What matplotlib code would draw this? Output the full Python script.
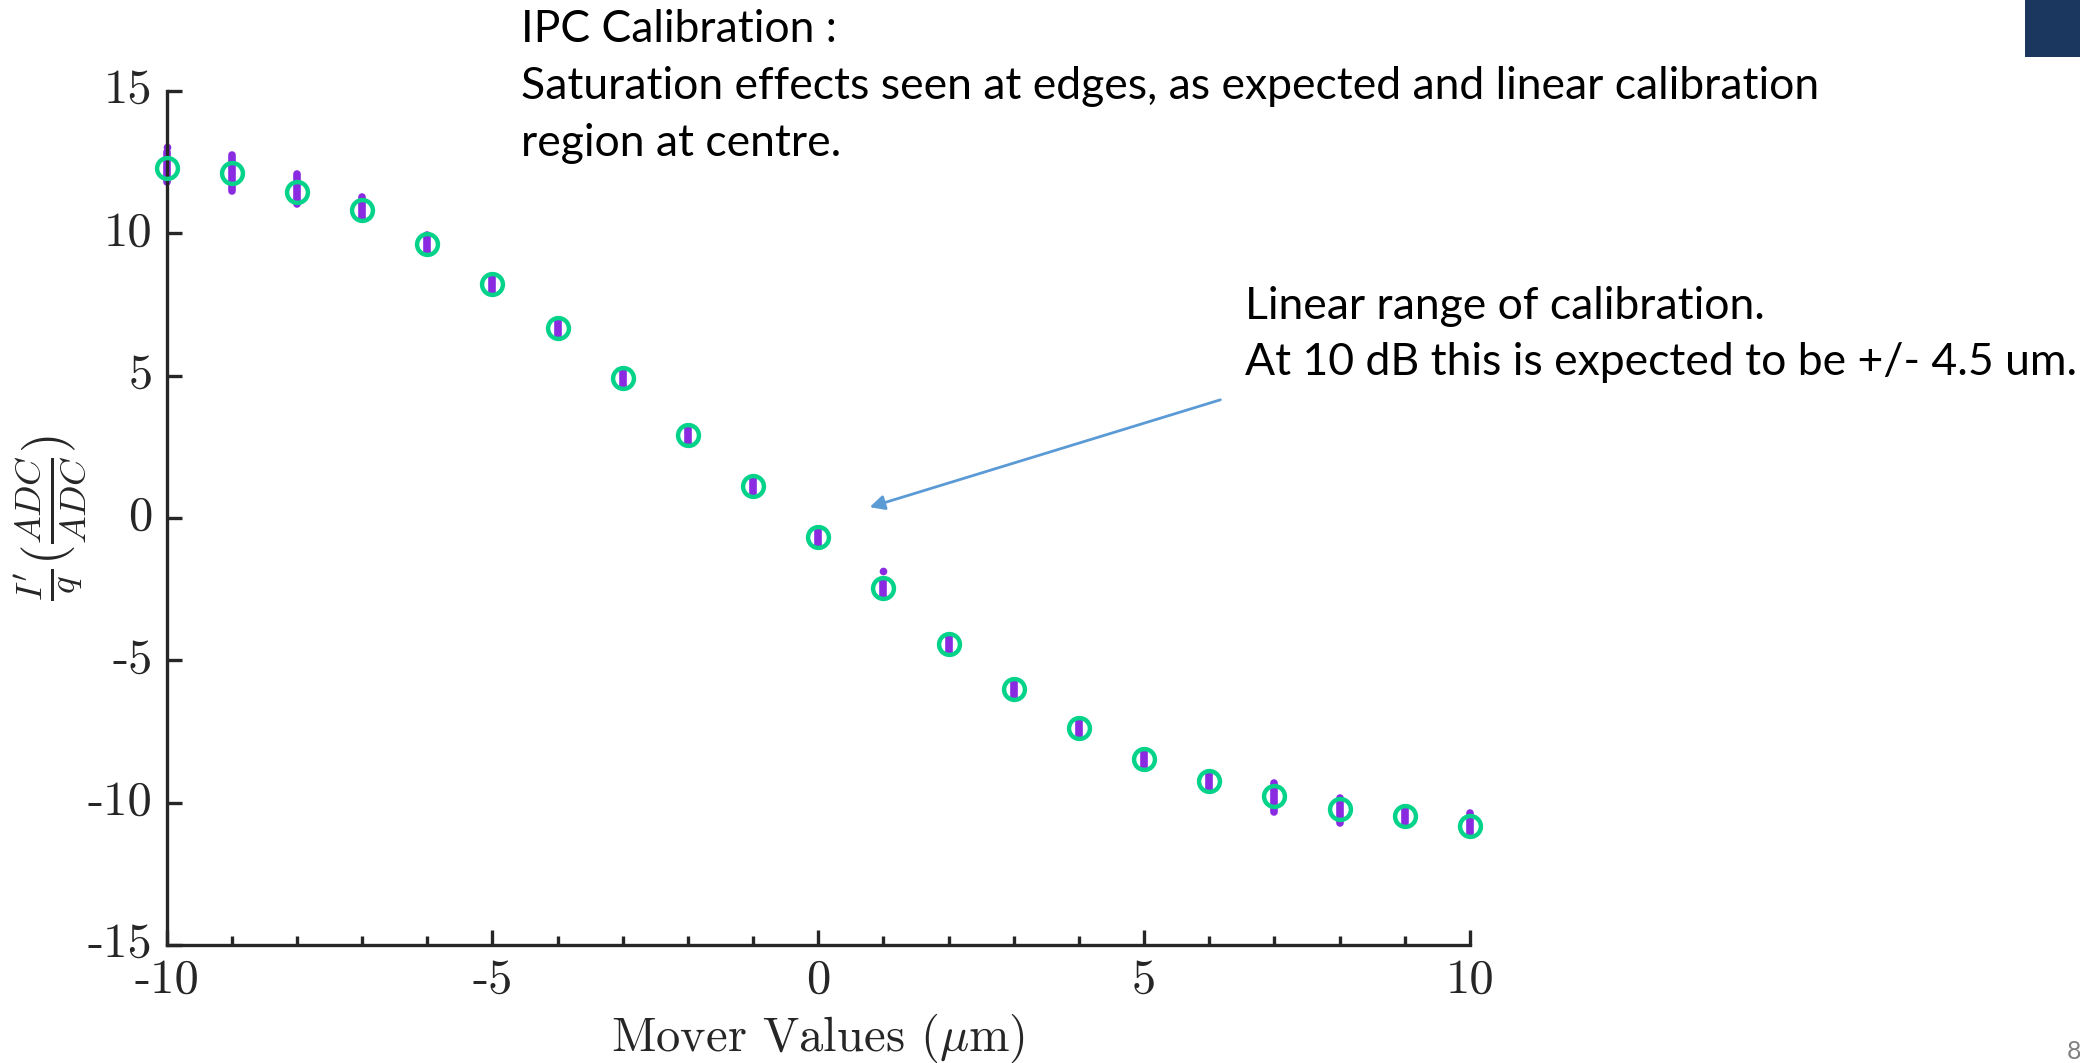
import numpy as np
import matplotlib
matplotlib.use('Agg')
from matplotlib import pyplot as plt
from matplotlib import transforms

# mover positions (um) and mean response I'/q at each position
mover = [-10, -9, -8, -7, -6, -5, -4, -3, -2, -1, 0, 1, 2, 3, 4, 5, 6, 7, 8, 9, 10]
mean_resp = [12.28, 12.13, 11.46, 10.82, 9.62, 8.21, 6.69, 4.92, 2.92, 1.14, -0.68,
             -2.47, -4.43, -6.00, -7.37, -8.48, -9.24, -9.76, -10.23, -10.46, -10.81]

# spread of the individual samples at each position (top / bottom)
sample_hi = [12.87, 12.75, 12.07, 11.26, 9.94, 8.48, 6.96, 5.19, 3.19, 1.41, -0.40,
             -2.18, -4.13, -5.73, -7.10, -8.21, -8.95, -9.32, -9.85, -10.20, -10.37]
sample_lo = [11.81, 11.50, 11.02, 10.53, 9.35, 7.95, 6.42, 4.65, 2.65, 0.87, -0.95,
             -2.76, -4.70, -6.28, -7.62, -8.76, -9.51, -10.32, -10.72, -10.72, -11.07]

# stray samples lying off the main spread
stray_x = [-10, 1]
stray_y = [13.04, -1.86]

xticks = [-10, -5, 0, 5, 10]
yticks = [-15, -10, -5, 0, 5, 10, 15]

W, H = 2080, 1063
purple = '#8a2be2'
green = '#05d38a'
ink = '#262626'

plt.rcParams['mathtext.fontset'] = 'cm'
plt.rcParams['axes.unicode_minus'] = False

fig = plt.figure(figsize=(W / 100, H / 100), dpi=100)


def pos(x, y):
    # slide pixel -> figure fraction
    return x / W, 1 - y / H


l, t = pos(166.5, 91)
r, b = pos(1470, 945)
ax = fig.add_axes([l, b, r - l, t - b])

ax.vlines(mover, sample_lo, sample_hi, color=purple, lw=5.5, capstyle='round',
          zorder=2, clip_on=False)
ax.plot(stray_x, stray_y, 'o', color=purple, ms=5.5, mew=0, zorder=2, clip_on=False)
ax.plot(mover, mean_resp, 'o', mfc='none', mec=green, ms=15, mew=3.2, zorder=3,
        clip_on=False)

ax.set_xlim(-10, 10)
ax.set_ylim(-15, 15)
for s in ['top', 'right']:
    ax.spines[s].set_visible(False)
for s in ['left', 'bottom']:
    ax.spines[s].set_linewidth(2.4)
    ax.spines[s].set_color(ink)

ax.set_xticks(xticks)
ax.set_xticks(mover, minor=True)
ax.set_yticks(yticks)
ax.set_xticklabels([str(v) for v in xticks], family='cmr10', fontsize=35, color=ink)
ax.set_yticklabels([str(v) for v in yticks], family='cmr10', fontsize=35, color=ink)
ax.tick_params(axis='both', which='major', direction='in', length=10.5, width=2.4, color=ink)
ax.tick_params(axis='x', which='minor', direction='in', length=6.5, width=2.4, color=ink)
ax.tick_params(axis='x', which='major', pad=10)
ax.tick_params(axis='y', which='major', pad=10)

# nudge the y tick labels up a little so they sit level with their ticks
nudge = transforms.ScaledTranslation(0, 5 / 100, fig.dpi_scale_trans)
for lab in ax.get_yticklabels():
    lab.set_transform(lab.get_transform() + nudge)

ax.set_xlabel(r'Mover Values ($\mu$m)', family='cmr10', fontsize=35, color=ink, labelpad=6)
ax.set_ylabel(r'$\frac{I^{\prime}}{q}(\frac{ADC}{ADC})$', fontsize=38, color=ink)
ax.yaxis.set_label_coords(-0.06, 0.5)

# slide annotations
note_font = dict(family=['Lato', 'DejaVu Sans'], fontsize=32, color='black', va='baseline')
fig.text(*pos(521, 42), 'IPC Calibration :', **note_font)
fig.text(*pos(521, 99), 'Saturation effects seen at edges, as expected and linear calibration', **note_font)
fig.text(*pos(521, 156), 'region at centre.', **note_font)
fig.text(*pos(1245, 319), 'Linear range of calibration.', **note_font)
fig.text(*pos(1245, 375), 'At 10 dB this is expected to be +/- 4.5 um.', **note_font)

fig.add_artist(matplotlib.patches.FancyArrowPatch(
    pos(1223, 399), pos(867, 508), transform=fig.transFigure,
    arrowstyle='-|>', mutation_scale=22, lw=2, color='#5b9bd5'))

# header block and page number
bx, by = pos(2025, 57)
fig.add_artist(matplotlib.patches.Rectangle((bx, by), 1 - bx, 1 - by,
                                            transform=fig.transFigure,
                                            color='#1b365f', lw=0))
fig.text(*pos(2067, 1040), '8', family=['Lato', 'DejaVu Sans'], fontsize=18,
         color='#808080', va='top')

fig.savefig('out.png', dpi=100)
